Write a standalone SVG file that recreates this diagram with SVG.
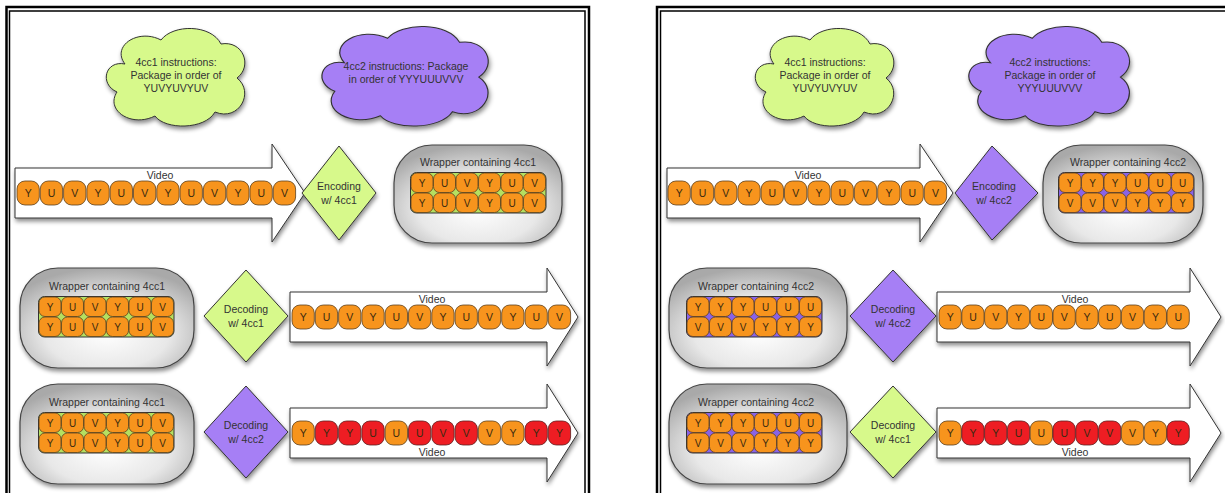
<svg xmlns="http://www.w3.org/2000/svg" xmlns:xlink="http://www.w3.org/1999/xlink" width="1225" height="493" viewBox="0 0 1225 493">
<style>
text{font-family:"Liberation Sans",Arial,sans-serif;fill:#333}
.t{font-size:10.5px;text-anchor:middle}
.pt{font-size:10.5px;text-anchor:middle;fill:#3a2a10}
.gt{font-size:10px;text-anchor:middle;fill:#3a2a10}
.bd{fill:none;stroke:#000}
.cg{fill:#d7f98b;stroke:#333;stroke-width:1}
.cp{fill:#a67ff5;stroke:#333;stroke-width:1}
.arr{fill:#fff;stroke:#333;stroke-width:1}
.wr{fill:url(#wg);stroke:#444;stroke-width:1.2}
.gbg{stroke:#333;stroke-width:1}
.sh{filter:url(#sh)}
</style>
<defs>
<filter id="sh" x="-20%" y="-20%" width="150%" height="160%">
<feDropShadow dx="1" dy="3" stdDeviation="2" flood-color="#000" flood-opacity="0.45"/>
</filter>
<radialGradient id="wg" cx="50%" cy="65%" r="65%">
<stop offset="0" stop-color="#ffffff"/>
<stop offset="0.55" stop-color="#e8e8e8"/>
<stop offset="1" stop-color="#a9a9a9"/>
</radialGradient>
<path id="cloud" d="M22,38 C8,20 35,2 58,14 C70,-2 108,-2 118,18 C140,14 150,40 134,52 C152,66 136,96 112,86 C102,104 62,104 52,90 C28,102 2,84 14,66 C-4,58 2,34 22,38 Z"/>
<rect id="po" width="22.3" height="24" rx="8" fill="#f7941d" stroke="#5a4020" stroke-width="0.8"/>
<rect id="pr" width="22.3" height="24" rx="8" fill="#ee1d23" stroke="#5a2020" stroke-width="0.8"/>
<rect id="go" width="22" height="19.5" rx="6" fill="#f7941d" stroke="#5a4020" stroke-width="0.8"/>
</defs>

<g id="borders">
<path class="bd" stroke-width="2.5" d="M6.5,493 V7 H589 V493"/>
<path class="bd" stroke-width="1.5" d="M9.5,493 V11 H585 V493"/>
<path class="bd" stroke-width="2.5" d="M657,493 V7 H1225"/>
<path class="bd" stroke-width="1.5" d="M660.5,493 V11 H1225"/>
</g>

<!-- LEFT PANEL -->
<g id="cloud-L1">
<use href="#cloud" class="cg sh" transform="translate(103,26)"/>
<text class="t" x="176" y="66">4cc1 instructions:</text>
<text class="t" x="176" y="79">Package in order of</text>
<text class="t" x="176" y="92">YUVYUVYUV</text>
</g>
<g id="cloud-L2">
<use href="#cloud" class="cp sh" transform="translate(318,24) scale(1.2,1.02)"/>
<text class="t" x="406" y="70">4cc2 instructions: Package</text>
<text class="t" x="406" y="83">in order of YYYUUUVVV</text>
</g>

<g id="connectors">
<path class="arr sh" d="M15,168 H272 V144 L305,193 L272,242 V218 H15 Z"/>
<path class="arr sh" d="M290,292 H547 V268 L578,317 L547,366 V342 H290 Z"/>
<path class="arr sh" d="M290,408 H547 V384 L578,433 L547,482 V458 H290 Z"/>
<path class="arr sh" d="M667,168 H920 V144 L953,193 L920,242 V218 H667 Z"/>
<path class="arr sh" d="M937,292 H1190 V268 L1221,317 L1190,366 V342 H937 Z"/>
<path class="arr sh" d="M937,408 H1190 V384 L1221,433 L1190,482 V458 H937 Z"/>
</g>

<g id="video-L1">
<text class="t" x="160" y="179">Video</text>
<g transform="translate(17,181)">
<g><use href="#po"/><text class="pt" x="11.2" y="16">Y</text></g>
<g transform="translate(23.3,0)"><use href="#po"/><text class="pt" x="11.2" y="16">U</text></g>
<g transform="translate(46.6,0)"><use href="#po"/><text class="pt" x="11.2" y="16">V</text></g>
<g transform="translate(69.9,0)"><use href="#po"/><text class="pt" x="11.2" y="16">Y</text></g>
<g transform="translate(93.2,0)"><use href="#po"/><text class="pt" x="11.2" y="16">U</text></g>
<g transform="translate(116.5,0)"><use href="#po"/><text class="pt" x="11.2" y="16">V</text></g>
<g transform="translate(139.8,0)"><use href="#po"/><text class="pt" x="11.2" y="16">Y</text></g>
<g transform="translate(163.1,0)"><use href="#po"/><text class="pt" x="11.2" y="16">U</text></g>
<g transform="translate(186.4,0)"><use href="#po"/><text class="pt" x="11.2" y="16">V</text></g>
<g transform="translate(209.7,0)"><use href="#po"/><text class="pt" x="11.2" y="16">Y</text></g>
<g transform="translate(233,0)"><use href="#po"/><text class="pt" x="11.2" y="16">U</text></g>
<g transform="translate(256.3,0)"><use href="#po"/><text class="pt" x="11.2" y="16">V</text></g>
</g>
</g>

<g id="enc-L1">
<path class="sh" d="M339,146 L376,193 L339,240 L302,193 Z" fill="#d7f98b" stroke="#333"/>
<text class="t" x="339" y="190">Encoding</text>
<text class="t" x="339" y="204">w/ 4cc1</text>
</g>

<g id="wrap-L1">
<rect class="wr sh" x="394" y="145" width="168" height="98" rx="38"/>
<text class="t" x="478" y="166">Wrapper containing 4cc1</text>
<g transform="translate(411,173)">
<rect class="gbg" x="-0.5" y="-0.5" width="135.5" height="40.5" rx="6" fill="#b5e060"/>
<g><use href="#go"/><text class="gt" x="11" y="14">Y</text></g>
<g transform="translate(22.5,0)"><use href="#go"/><text class="gt" x="11" y="14">U</text></g>
<g transform="translate(45,0)"><use href="#go"/><text class="gt" x="11" y="14">V</text></g>
<g transform="translate(67.5,0)"><use href="#go"/><text class="gt" x="11" y="14">Y</text></g>
<g transform="translate(90,0)"><use href="#go"/><text class="gt" x="11" y="14">U</text></g>
<g transform="translate(112.5,0)"><use href="#go"/><text class="gt" x="11" y="14">V</text></g>
<g transform="translate(0,20)"><use href="#go"/><text class="gt" x="11" y="14">Y</text></g>
<g transform="translate(22.5,20)"><use href="#go"/><text class="gt" x="11" y="14">U</text></g>
<g transform="translate(45,20)"><use href="#go"/><text class="gt" x="11" y="14">V</text></g>
<g transform="translate(67.5,20)"><use href="#go"/><text class="gt" x="11" y="14">Y</text></g>
<g transform="translate(90,20)"><use href="#go"/><text class="gt" x="11" y="14">U</text></g>
<g transform="translate(112.5,20)"><use href="#go"/><text class="gt" x="11" y="14">V</text></g>
</g>
</g>

<g id="wrap-L2">
<rect class="wr sh" x="20" y="268" width="174" height="100" rx="38"/>
<text class="t" x="107" y="290">Wrapper containing 4cc1</text>
<g transform="translate(39,297)">
<rect class="gbg" x="-0.5" y="-0.5" width="135.5" height="40.5" rx="6" fill="#b5e060"/>
<g><use href="#go"/><text class="gt" x="11" y="14">Y</text></g>
<g transform="translate(22.5,0)"><use href="#go"/><text class="gt" x="11" y="14">U</text></g>
<g transform="translate(45,0)"><use href="#go"/><text class="gt" x="11" y="14">V</text></g>
<g transform="translate(67.5,0)"><use href="#go"/><text class="gt" x="11" y="14">Y</text></g>
<g transform="translate(90,0)"><use href="#go"/><text class="gt" x="11" y="14">U</text></g>
<g transform="translate(112.5,0)"><use href="#go"/><text class="gt" x="11" y="14">V</text></g>
<g transform="translate(0,20)"><use href="#go"/><text class="gt" x="11" y="14">Y</text></g>
<g transform="translate(22.5,20)"><use href="#go"/><text class="gt" x="11" y="14">U</text></g>
<g transform="translate(45,20)"><use href="#go"/><text class="gt" x="11" y="14">V</text></g>
<g transform="translate(67.5,20)"><use href="#go"/><text class="gt" x="11" y="14">Y</text></g>
<g transform="translate(90,20)"><use href="#go"/><text class="gt" x="11" y="14">U</text></g>
<g transform="translate(112.5,20)"><use href="#go"/><text class="gt" x="11" y="14">V</text></g>
</g>
</g>

<g id="dec-L2">
<path class="sh" d="M246,270 L288,316 L246,362 L204,316 Z" fill="#d7f98b" stroke="#333"/>
<text class="t" x="246" y="313">Decoding</text>
<text class="t" x="246" y="327">w/ 4cc1</text>
</g>

<g id="video-L2">
<text class="t" x="432" y="303">Video</text>
<g transform="translate(292,305)">
<g><use href="#po"/><text class="pt" x="11.2" y="16">Y</text></g>
<g transform="translate(23.3,0)"><use href="#po"/><text class="pt" x="11.2" y="16">U</text></g>
<g transform="translate(46.6,0)"><use href="#po"/><text class="pt" x="11.2" y="16">V</text></g>
<g transform="translate(69.9,0)"><use href="#po"/><text class="pt" x="11.2" y="16">Y</text></g>
<g transform="translate(93.2,0)"><use href="#po"/><text class="pt" x="11.2" y="16">U</text></g>
<g transform="translate(116.5,0)"><use href="#po"/><text class="pt" x="11.2" y="16">V</text></g>
<g transform="translate(139.8,0)"><use href="#po"/><text class="pt" x="11.2" y="16">Y</text></g>
<g transform="translate(163.1,0)"><use href="#po"/><text class="pt" x="11.2" y="16">U</text></g>
<g transform="translate(186.4,0)"><use href="#po"/><text class="pt" x="11.2" y="16">V</text></g>
<g transform="translate(209.7,0)"><use href="#po"/><text class="pt" x="11.2" y="16">Y</text></g>
<g transform="translate(233,0)"><use href="#po"/><text class="pt" x="11.2" y="16">U</text></g>
<g transform="translate(256.3,0)"><use href="#po"/><text class="pt" x="11.2" y="16">V</text></g>
</g>
</g>

<g id="wrap-L3">
<rect class="wr sh" x="20" y="384" width="174" height="100" rx="38"/>
<text class="t" x="107" y="406">Wrapper containing 4cc1</text>
<g transform="translate(39,413)">
<rect class="gbg" x="-0.5" y="-0.5" width="135.5" height="40.5" rx="6" fill="#b5e060"/>
<g><use href="#go"/><text class="gt" x="11" y="14">Y</text></g>
<g transform="translate(22.5,0)"><use href="#go"/><text class="gt" x="11" y="14">U</text></g>
<g transform="translate(45,0)"><use href="#go"/><text class="gt" x="11" y="14">V</text></g>
<g transform="translate(67.5,0)"><use href="#go"/><text class="gt" x="11" y="14">Y</text></g>
<g transform="translate(90,0)"><use href="#go"/><text class="gt" x="11" y="14">U</text></g>
<g transform="translate(112.5,0)"><use href="#go"/><text class="gt" x="11" y="14">V</text></g>
<g transform="translate(0,20)"><use href="#go"/><text class="gt" x="11" y="14">Y</text></g>
<g transform="translate(22.5,20)"><use href="#go"/><text class="gt" x="11" y="14">U</text></g>
<g transform="translate(45,20)"><use href="#go"/><text class="gt" x="11" y="14">V</text></g>
<g transform="translate(67.5,20)"><use href="#go"/><text class="gt" x="11" y="14">Y</text></g>
<g transform="translate(90,20)"><use href="#go"/><text class="gt" x="11" y="14">U</text></g>
<g transform="translate(112.5,20)"><use href="#go"/><text class="gt" x="11" y="14">V</text></g>
</g>
</g>

<g id="dec-L3">
<path class="sh" d="M246,386 L288,432 L246,478 L204,432 Z" fill="#a67ff5" stroke="#333"/>
<text class="t" x="246" y="429">Decoding</text>
<text class="t" x="246" y="443">w/ 4cc2</text>
</g>

<g id="video-L3">
<text class="t" x="432" y="456">Video</text>
<g transform="translate(292,421)">
<g><use href="#po"/><text class="pt" x="11.2" y="16">Y</text></g>
<g transform="translate(23.3,0)"><use href="#pr"/><text class="pt" x="11.2" y="16">Y</text></g>
<g transform="translate(46.6,0)"><use href="#pr"/><text class="pt" x="11.2" y="16">Y</text></g>
<g transform="translate(69.9,0)"><use href="#pr"/><text class="pt" x="11.2" y="16">U</text></g>
<g transform="translate(93.2,0)"><use href="#po"/><text class="pt" x="11.2" y="16">U</text></g>
<g transform="translate(116.5,0)"><use href="#pr"/><text class="pt" x="11.2" y="16">U</text></g>
<g transform="translate(139.8,0)"><use href="#pr"/><text class="pt" x="11.2" y="16">V</text></g>
<g transform="translate(163.1,0)"><use href="#pr"/><text class="pt" x="11.2" y="16">V</text></g>
<g transform="translate(186.4,0)"><use href="#po"/><text class="pt" x="11.2" y="16">V</text></g>
<g transform="translate(209.7,0)"><use href="#po"/><text class="pt" x="11.2" y="16">Y</text></g>
<g transform="translate(233,0)"><use href="#pr"/><text class="pt" x="11.2" y="16">Y</text></g>
<g transform="translate(256.3,0)"><use href="#pr"/><text class="pt" x="11.2" y="16">Y</text></g>
</g>
</g>

<!-- RIGHT PANEL -->
<g id="cloud-R1">
<use href="#cloud" class="cg sh" transform="translate(752,26)"/>
<text class="t" x="825" y="66">4cc1 instructions:</text>
<text class="t" x="825" y="79">Package in order of</text>
<text class="t" x="825" y="92">YUVYUVYUV</text>
</g>
<g id="cloud-R2">
<use href="#cloud" class="cp sh" transform="translate(965,24) scale(1.16,1.02)"/>
<text class="t" x="1050" y="66">4cc2 instructions:</text>
<text class="t" x="1050" y="79">Package in order of</text>
<text class="t" x="1050" y="92">YYYUUUVVV</text>
</g>

<g id="video-R1">
<text class="t" x="808" y="179">Video</text>
<g transform="translate(668,181)">
<g><use href="#po"/><text class="pt" x="11.2" y="16">Y</text></g>
<g transform="translate(23.3,0)"><use href="#po"/><text class="pt" x="11.2" y="16">U</text></g>
<g transform="translate(46.6,0)"><use href="#po"/><text class="pt" x="11.2" y="16">V</text></g>
<g transform="translate(69.9,0)"><use href="#po"/><text class="pt" x="11.2" y="16">Y</text></g>
<g transform="translate(93.2,0)"><use href="#po"/><text class="pt" x="11.2" y="16">U</text></g>
<g transform="translate(116.5,0)"><use href="#po"/><text class="pt" x="11.2" y="16">V</text></g>
<g transform="translate(139.8,0)"><use href="#po"/><text class="pt" x="11.2" y="16">Y</text></g>
<g transform="translate(163.1,0)"><use href="#po"/><text class="pt" x="11.2" y="16">U</text></g>
<g transform="translate(186.4,0)"><use href="#po"/><text class="pt" x="11.2" y="16">V</text></g>
<g transform="translate(209.7,0)"><use href="#po"/><text class="pt" x="11.2" y="16">Y</text></g>
<g transform="translate(233,0)"><use href="#po"/><text class="pt" x="11.2" y="16">U</text></g>
<g transform="translate(256.3,0)"><use href="#po"/><text class="pt" x="11.2" y="16">V</text></g>
</g>
</g>

<g id="enc-R1">
<path class="sh" d="M992,146 L1038,193 L992,240 L955,193 Z" fill="#a67ff5" stroke="#333"/>
<text class="t" x="994" y="190">Encoding</text>
<text class="t" x="994" y="204">w/ 4cc2</text>
</g>

<g id="wrap-R1">
<rect class="wr sh" x="1043" y="145" width="160" height="98" rx="38"/>
<text class="t" x="1128" y="166">Wrapper containing 4cc2</text>
<g transform="translate(1059,173)">
<rect class="gbg" x="-0.5" y="-0.5" width="135.5" height="40.5" rx="6" fill="#8a63e6"/>
<g><use href="#go"/><text class="gt" x="11" y="14">Y</text></g>
<g transform="translate(22.5,0)"><use href="#go"/><text class="gt" x="11" y="14">Y</text></g>
<g transform="translate(45,0)"><use href="#go"/><text class="gt" x="11" y="14">Y</text></g>
<g transform="translate(67.5,0)"><use href="#go"/><text class="gt" x="11" y="14">U</text></g>
<g transform="translate(90,0)"><use href="#go"/><text class="gt" x="11" y="14">U</text></g>
<g transform="translate(112.5,0)"><use href="#go"/><text class="gt" x="11" y="14">U</text></g>
<g transform="translate(0,20)"><use href="#go"/><text class="gt" x="11" y="14">V</text></g>
<g transform="translate(22.5,20)"><use href="#go"/><text class="gt" x="11" y="14">V</text></g>
<g transform="translate(45,20)"><use href="#go"/><text class="gt" x="11" y="14">V</text></g>
<g transform="translate(67.5,20)"><use href="#go"/><text class="gt" x="11" y="14">Y</text></g>
<g transform="translate(90,20)"><use href="#go"/><text class="gt" x="11" y="14">Y</text></g>
<g transform="translate(112.5,20)"><use href="#go"/><text class="gt" x="11" y="14">Y</text></g>
</g>
</g>

<g id="wrap-R2">
<rect class="wr sh" x="669" y="268" width="178" height="100" rx="38"/>
<text class="t" x="756" y="290">Wrapper containing 4cc2</text>
<g transform="translate(687,297)">
<rect class="gbg" x="-0.5" y="-0.5" width="135.5" height="40.5" rx="6" fill="#8a63e6"/>
<g><use href="#go"/><text class="gt" x="11" y="14">Y</text></g>
<g transform="translate(22.5,0)"><use href="#go"/><text class="gt" x="11" y="14">Y</text></g>
<g transform="translate(45,0)"><use href="#go"/><text class="gt" x="11" y="14">Y</text></g>
<g transform="translate(67.5,0)"><use href="#go"/><text class="gt" x="11" y="14">U</text></g>
<g transform="translate(90,0)"><use href="#go"/><text class="gt" x="11" y="14">U</text></g>
<g transform="translate(112.5,0)"><use href="#go"/><text class="gt" x="11" y="14">U</text></g>
<g transform="translate(0,20)"><use href="#go"/><text class="gt" x="11" y="14">V</text></g>
<g transform="translate(22.5,20)"><use href="#go"/><text class="gt" x="11" y="14">V</text></g>
<g transform="translate(45,20)"><use href="#go"/><text class="gt" x="11" y="14">V</text></g>
<g transform="translate(67.5,20)"><use href="#go"/><text class="gt" x="11" y="14">Y</text></g>
<g transform="translate(90,20)"><use href="#go"/><text class="gt" x="11" y="14">Y</text></g>
<g transform="translate(112.5,20)"><use href="#go"/><text class="gt" x="11" y="14">Y</text></g>
</g>
</g>

<g id="dec-R2">
<path class="sh" d="M893,270 L936,316 L893,362 L850,316 Z" fill="#a67ff5" stroke="#333"/>
<text class="t" x="893" y="313">Decoding</text>
<text class="t" x="893" y="327">w/ 4cc2</text>
</g>

<g id="video-R2">
<text class="t" x="1075" y="303">Video</text>
<g transform="translate(939,305)">
<g><use href="#po"/><text class="pt" x="11.2" y="16">Y</text></g>
<g transform="translate(22.8,0)"><use href="#po"/><text class="pt" x="11.2" y="16">U</text></g>
<g transform="translate(45.6,0)"><use href="#po"/><text class="pt" x="11.2" y="16">V</text></g>
<g transform="translate(68.4,0)"><use href="#po"/><text class="pt" x="11.2" y="16">Y</text></g>
<g transform="translate(91.2,0)"><use href="#po"/><text class="pt" x="11.2" y="16">U</text></g>
<g transform="translate(114,0)"><use href="#po"/><text class="pt" x="11.2" y="16">V</text></g>
<g transform="translate(136.8,0)"><use href="#po"/><text class="pt" x="11.2" y="16">Y</text></g>
<g transform="translate(159.6,0)"><use href="#po"/><text class="pt" x="11.2" y="16">U</text></g>
<g transform="translate(182.4,0)"><use href="#po"/><text class="pt" x="11.2" y="16">V</text></g>
<g transform="translate(205.2,0)"><use href="#po"/><text class="pt" x="11.2" y="16">Y</text></g>
<g transform="translate(228,0)"><use href="#po"/><text class="pt" x="11.2" y="16">U</text></g>
</g>
</g>

<g id="wrap-R3">
<rect class="wr sh" x="669" y="384" width="178" height="100" rx="38"/>
<text class="t" x="756" y="406">Wrapper containing 4cc2</text>
<g transform="translate(687,413)">
<rect class="gbg" x="-0.5" y="-0.5" width="135.5" height="40.5" rx="6" fill="#8a63e6"/>
<g><use href="#go"/><text class="gt" x="11" y="14">Y</text></g>
<g transform="translate(22.5,0)"><use href="#go"/><text class="gt" x="11" y="14">Y</text></g>
<g transform="translate(45,0)"><use href="#go"/><text class="gt" x="11" y="14">Y</text></g>
<g transform="translate(67.5,0)"><use href="#go"/><text class="gt" x="11" y="14">U</text></g>
<g transform="translate(90,0)"><use href="#go"/><text class="gt" x="11" y="14">U</text></g>
<g transform="translate(112.5,0)"><use href="#go"/><text class="gt" x="11" y="14">U</text></g>
<g transform="translate(0,20)"><use href="#go"/><text class="gt" x="11" y="14">V</text></g>
<g transform="translate(22.5,20)"><use href="#go"/><text class="gt" x="11" y="14">V</text></g>
<g transform="translate(45,20)"><use href="#go"/><text class="gt" x="11" y="14">V</text></g>
<g transform="translate(67.5,20)"><use href="#go"/><text class="gt" x="11" y="14">Y</text></g>
<g transform="translate(90,20)"><use href="#go"/><text class="gt" x="11" y="14">Y</text></g>
<g transform="translate(112.5,20)"><use href="#go"/><text class="gt" x="11" y="14">Y</text></g>
</g>
</g>

<g id="dec-R3">
<path class="sh" d="M893,386 L936,432 L893,478 L850,432 Z" fill="#d7f98b" stroke="#333"/>
<text class="t" x="893" y="429">Decoding</text>
<text class="t" x="893" y="443">w/ 4cc1</text>
</g>

<g id="video-R3">
<text class="t" x="1075" y="456">Video</text>
<g transform="translate(939,421)">
<g><use href="#po"/><text class="pt" x="11.2" y="16">Y</text></g>
<g transform="translate(22.8,0)"><use href="#pr"/><text class="pt" x="11.2" y="16">Y</text></g>
<g transform="translate(45.6,0)"><use href="#pr"/><text class="pt" x="11.2" y="16">Y</text></g>
<g transform="translate(68.4,0)"><use href="#pr"/><text class="pt" x="11.2" y="16">U</text></g>
<g transform="translate(91.2,0)"><use href="#po"/><text class="pt" x="11.2" y="16">U</text></g>
<g transform="translate(114,0)"><use href="#pr"/><text class="pt" x="11.2" y="16">U</text></g>
<g transform="translate(136.8,0)"><use href="#pr"/><text class="pt" x="11.2" y="16">V</text></g>
<g transform="translate(159.6,0)"><use href="#pr"/><text class="pt" x="11.2" y="16">V</text></g>
<g transform="translate(182.4,0)"><use href="#po"/><text class="pt" x="11.2" y="16">V</text></g>
<g transform="translate(205.2,0)"><use href="#po"/><text class="pt" x="11.2" y="16">Y</text></g>
<g transform="translate(228,0)"><use href="#pr"/><text class="pt" x="11.2" y="16">Y</text></g>
</g>
</g>
</svg>
